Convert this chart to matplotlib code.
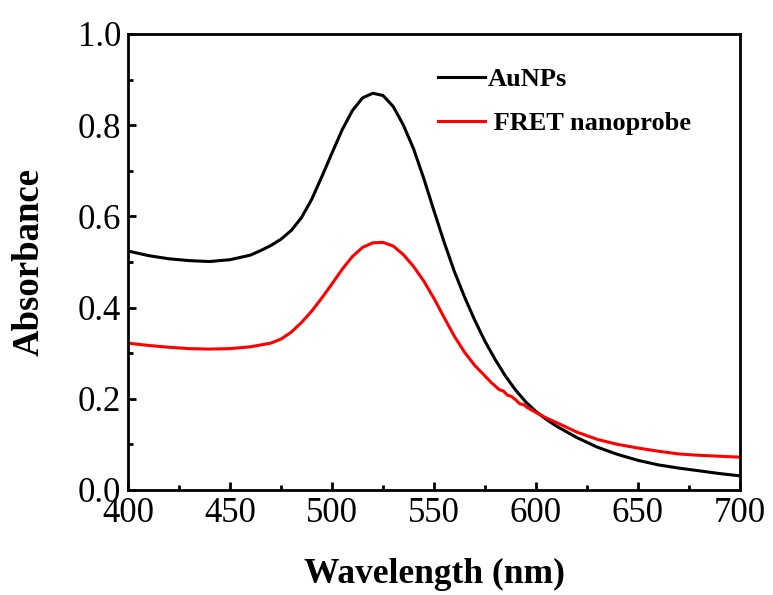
#!/usr/bin/env python
# -*- coding: utf-8 -*-
import numpy as np
import matplotlib
matplotlib.use("Agg")
import matplotlib.pyplot as plt
from matplotlib.ticker import MultipleLocator, FormatStrFormatter

# Espectro das AuNPs
comprimentoAu = [400, 410, 420, 430, 440, 450, 460, 465, 470, 475, 480, 485, 490, 495,
                 500, 505, 510, 515, 520, 525, 530, 535, 540, 545, 550, 555, 560, 565,
                 570, 575, 580, 585, 590, 595, 600, 605, 610, 620, 630, 640, 650, 660,
                 670, 680, 690, 700]
absorbAu = [0.524, 0.514, 0.507, 0.503, 0.501, 0.505, 0.515, 0.525, 0.536, 0.550, 0.569,
            0.597, 0.637, 0.687, 0.739, 0.790, 0.832, 0.860, 0.870, 0.865, 0.841, 0.800,
            0.748, 0.683, 0.612, 0.543, 0.479, 0.423, 0.372, 0.326, 0.286, 0.250, 0.219,
            0.193, 0.172, 0.155, 0.140, 0.115, 0.094, 0.078, 0.065, 0.055, 0.048, 0.042,
            0.036, 0.031]

# Espectro da nanosonda FRET
comprimentoFret = [400, 410, 420, 430, 440, 450, 460, 470, 475, 480, 485, 490, 495, 500,
                   505, 510, 515, 520, 525, 530, 535, 540, 545, 550, 555, 560, 565, 570,
                   575, 578, 580, 582, 584, 586, 588, 590, 592, 594, 596, 598, 600, 605,
                   610, 620, 630, 640, 650, 660, 670, 680, 690, 700]
absorbFret = [0.322, 0.317, 0.313, 0.310, 0.309, 0.310, 0.314, 0.322, 0.331, 0.346, 0.367,
              0.392, 0.421, 0.452, 0.484, 0.512, 0.532, 0.542, 0.543, 0.535, 0.516, 0.490,
              0.458, 0.420, 0.378, 0.337, 0.302, 0.273, 0.250, 0.236, 0.228, 0.220, 0.217,
              0.208, 0.205, 0.198, 0.189, 0.187, 0.180, 0.175, 0.170, 0.158, 0.148, 0.127,
              0.111, 0.100, 0.092, 0.085, 0.079, 0.076, 0.074, 0.072]

rotulos = ["AuNPs", " FRET nanoprobe"]


def main():
	plt.rcParams['font.family'] = ['Liberation Serif', 'DejaVu Serif']

	fig = plt.figure(figsize=(7.73, 5.95), dpi=100)
	ax = fig.add_axes([0.1656, 0.1765, 0.7917, 0.7664])

	ax.plot(comprimentoAu, absorbAu, color='black', lw=2.2, label=rotulos[0])
	ax.plot(comprimentoFret, absorbFret, color='red', lw=2.2, label=rotulos[1])

	ax.set_xlim(400, 700)
	ax.set_ylim(0, 1.0)
	ax.xaxis.set_major_locator(MultipleLocator(50))
	ax.xaxis.set_minor_locator(MultipleLocator(25))
	ax.yaxis.set_major_locator(MultipleLocator(0.2))
	ax.yaxis.set_minor_locator(MultipleLocator(0.1))
	ax.yaxis.set_major_formatter(FormatStrFormatter('%.1f'))

	for lado in ax.spines.values():
		lado.set_linewidth(2.0)
	ax.tick_params(which='both', direction='in', width=2.0, labelsize=25,
				   top=False, right=False)
	ax.tick_params(which='major', length=6, pad=5)
	ax.tick_params(which='minor', length=3.5)

	ax.set_xlabel("Wavelength (nm)", fontsize=25.5, fontweight='bold', labelpad=20)
	ax.set_ylabel("Absorbance", fontsize=26.5, fontweight='bold', labelpad=22)

	ax.legend(loc='upper left', bbox_to_anchor=(0.49, 0.95), frameon=False,
			  prop={'weight': 'bold', 'size': 19}, handlelength=1.75,
			  handletextpad=0.1, labelspacing=0.8, borderaxespad=0.0)

	plt.savefig("out.png", dpi=100)


if __name__ == '__main__':
	main()
